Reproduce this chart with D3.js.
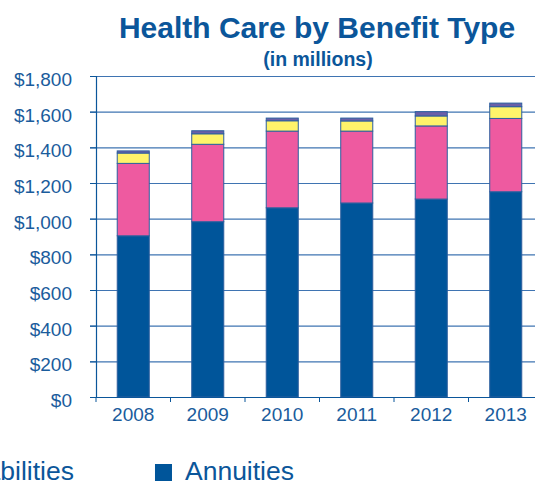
<html>
<head>
    <style>
        body { margin: 0; background: #fff; }
        text { font-family: "Liberation Sans", Arial, sans-serif; }
    </style>
</head>
<body>
    <svg id="container" width="535" height="481"></svg>
<script src="https://cdn.jsdelivr.net/npm/d3@7"></script>
<script>
    // values, in millions
    let years = ["2008", "2009", "2010", "2011", "2012", "2013"]
    let annuities = [904, 983, 1061, 1088, 1110, 1151]
    let disabilities = [406, 434, 430, 403, 410, 411]
    let thirdType = [58, 59, 58, 57, 56, 66]
    let fourthType = [12, 17, 15, 16, 24, 20]
    let yTicks = [0, 200, 400, 600, 800, 1000, 1200, 1400, 1600, 1800]

    let keys = ["annuities", "disabilities", "third", "fourth"]
    let colors = {annuities: "#00559a", disabilities: "#ee5aa0", third: "#fff36a", fourth: "#6a5fa8"}
    let blue = "#0b569a"

    let data = years.map((y, i) => ({
        year: y,
        annuities: annuities[i],
        disabilities: disabilities[i],
        third: thirdType[i],
        fourth: fourthType[i]
    }))

    let svg = d3.select("#container")

    let x = d3.scaleBand()
        .domain(years)
        .range([96, 543])
        .paddingInner(0.57)
        .paddingOuter(0.285)
    let xTick = d3.scaleBand().domain(years).range([96, 543])
    let y = d3.scaleLinear().domain([0, 1800]).range([397, 76])

    // gridlines
    svg.append("g").selectAll("line")
        .data(yTicks.filter(d => d > 0))
        .enter().append("line")
        .attr("x1", 90).attr("x2", 535)
        .attr("y1", d => y(d) + 0.5).attr("y2", d => y(d) + 0.5)
        .attr("stroke", "#3f74b2").attr("stroke-width", 1.2)

    // stacked bars
    let stack = d3.stack().keys(keys)(data)
    svg.append("g").selectAll("g")
        .data(stack)
        .enter().append("g")
        .attr("fill", d => colors[d.key])
        .selectAll("rect")
        .data(d => d)
        .enter().append("rect")
        .attr("x", d => x(d.data.year))
        .attr("width", x.bandwidth())
        .attr("y", d => y(d[1]))
        .attr("height", d => y(d[0]) - y(d[1]))
        .attr("stroke", "#2d5f9e")
        .attr("stroke-width", 1)

    // y axis
    let yAxis = svg.append("g")
    yAxis.append("line")
        .attr("x1", 96.5).attr("x2", 96.5).attr("y1", 76).attr("y2", 397)
        .attr("stroke", blue).attr("stroke-width", 1.2)
    yAxis.selectAll(".tick")
        .data(yTicks)
        .enter().append("line")
        .attr("x1", 90).attr("x2", 96)
        .attr("y1", d => y(d) + 0.5).attr("y2", d => y(d) + 0.5)
        .attr("stroke", blue)
    yAxis.selectAll("text")
        .data(yTicks)
        .enter().append("text")
        .attr("x", 72)
        .attr("y", d => y(d) + 10)
        .attr("text-anchor", "end")
        .attr("font-size", 19)
        .attr("fill", "#1a5c9c")
        .text(d => "$" + d3.format(",")(d))

    // x axis
    let xAxis = svg.append("g")
    xAxis.append("line")
        .attr("x1", 90).attr("x2", 535).attr("y1", 397.5).attr("y2", 397.5)
        .attr("stroke", blue).attr("stroke-width", 1.2)
    xAxis.selectAll(".tick")
        .data(years)
        .enter().append("line")
        .attr("x1", d => xTick(d)).attr("x2", d => xTick(d))
        .attr("y1", 397).attr("y2", 402)
        .attr("stroke", blue)
    xAxis.selectAll("text")
        .data(years)
        .enter().append("text")
        .attr("x", d => xTick(d) + xTick.bandwidth() / 2)
        .attr("y", 421)
        .attr("text-anchor", "middle")
        .attr("font-size", 19)
        .attr("fill", "#1a5c9c")
        .text(d => d)

    // titles
    svg.append("text")
        .attr("x", 317).attr("y", 38)
        .attr("text-anchor", "middle")
        .attr("font-size", 30).attr("font-weight", "bold")
        .attr("fill", "#0b569a")
        .text("Health Care by Benefit Type")
    svg.append("text")
        .attr("x", 318).attr("y", 66)
        .attr("text-anchor", "middle")
        .attr("font-size", 19.5).attr("font-weight", "bold")
        .attr("fill", "#0b569a")
        .text("(in millions)")

    // legend (cut off by the picture edge)
    let legend = [
        {name: "Disabilities", key: "disabilities", end: 74},
        {name: "Annuities", key: "annuities", end: 294}
    ]
    let lg = svg.append("g").selectAll("g")
        .data(legend)
        .enter().append("g")
    lg.append("text")
        .attr("x", d => d.end).attr("y", 480)
        .attr("text-anchor", "end")
        .attr("font-size", 26.5)
        .attr("fill", "#0b569a")
        .text(d => d.name)
    lg.append("rect")
        .attr("x", function(d) {
            return d.end - this.parentNode.querySelector("text").getComputedTextLength() - 30
        })
        .attr("y", 464).attr("width", 17).attr("height", 17)
        .attr("fill", d => colors[d.key])
</script>
</body>
</html>
